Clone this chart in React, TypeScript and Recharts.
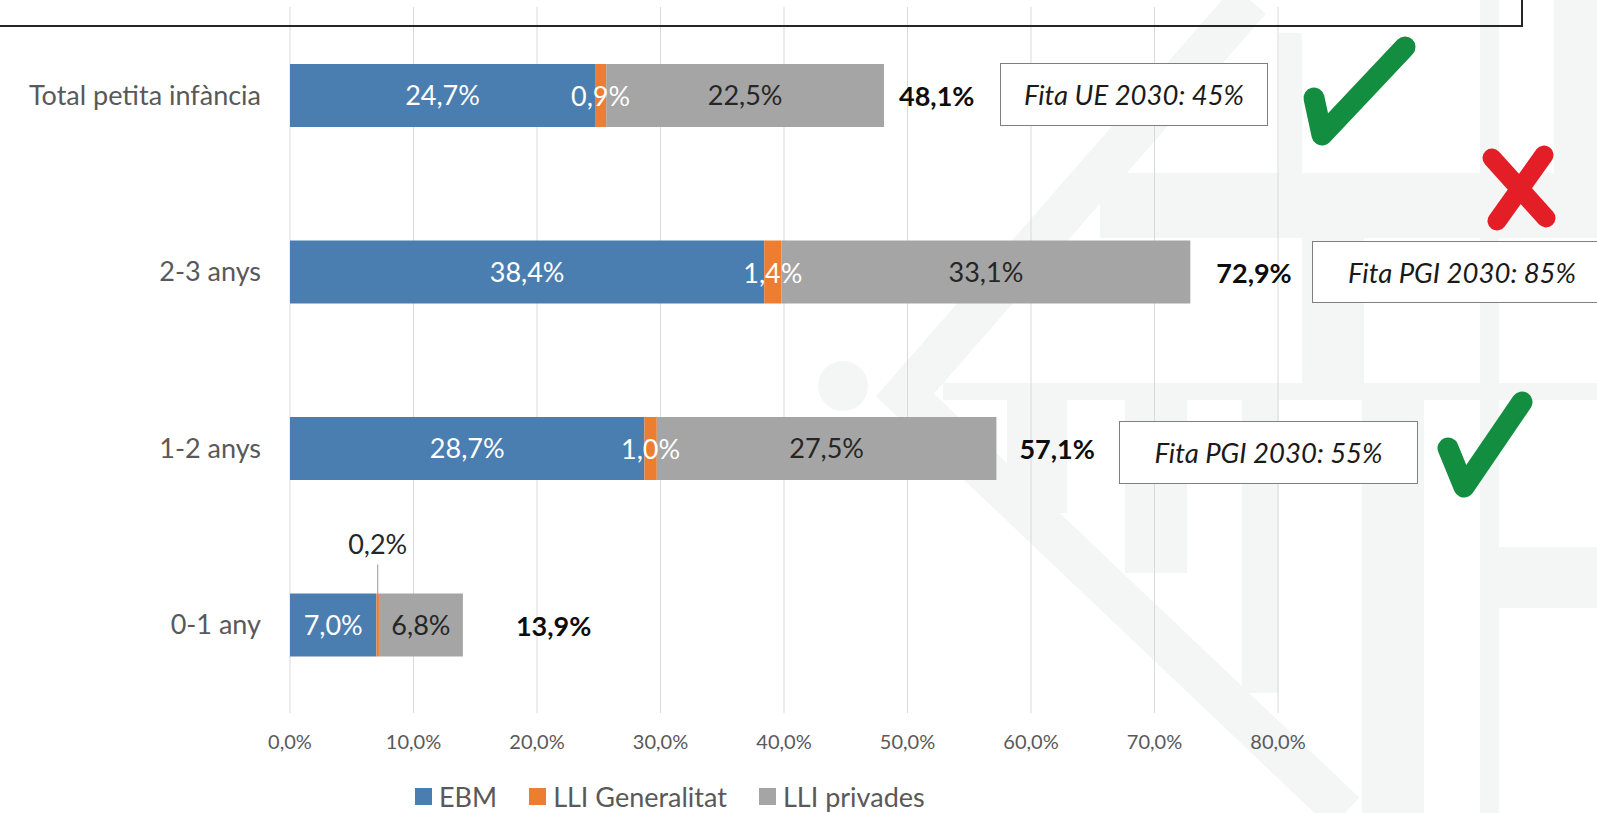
import React from "react"
import { BarChart, Bar, XAxis, YAxis, CartesianGrid, LabelList } from "recharts"

// categories, top to bottom
const categories = ["Total petita infància", "2-3 anys", "1-2 anys", "0-1 any"]
const ebm = [24.7, 38.4, 28.7, 7.0]
const lliGeneralitat = [0.9, 1.4, 1.0, 0.2]
const lliPrivades = [22.5, 33.1, 27.5, 6.8]
const totals = [48.1, 72.9, 57.1, 13.9]
const xTicks = [0, 10, 20, 30, 40, 50, 60, 70, 80]

const series = [
  { key: "ebm", name: "EBM", color: "#4a7eb1" },
  { key: "gen", name: "LLI Generalitat", color: "#ed7d31" },
  { key: "priv", name: "LLI privades", color: "#a5a5a5" },
]

const FONT = "Lato, 'Open Sans', sans-serif"
// gap between the end of the stack and its total label (placed by hand in the original)
const TOTAL_GAP = [15, 26, 23, 53]

const data = categories.map((name, i) => ({
  name,
  ebm: ebm[i],
  gen: lliGeneralitat[i],
  priv: lliPrivades[i],
  total: totals[i],
}))

const fmt = (v: number) => `${v.toFixed(1).replace(".", ",")}%`

const GenLabel = (props: any) => {
  const { x, y, width, height, value } = props
  const cx = x + width / 2
  if (value < 0.5) {
    // too thin for an inside label: put it above with a leader line
    return (
      <g>
        <line x1={cx} x2={cx} y1={y - 29} y2={y} stroke="#a6a6a6" strokeWidth={1.2} />
        <text x={cx} y={y - 50} textAnchor="middle" dominantBaseline="central" fontSize={27} fill="#262626" fontFamily={FONT}>
          {fmt(value)}
        </text>
      </g>
    )
  }
  return (
    <text x={cx} y={y + height / 2} textAnchor="middle" dominantBaseline="central" fontSize={27} fill="#ffffff" fontFamily={FONT}>
      {fmt(value)}
    </text>
  )
}

const TotalLabel = (props: any) => {
  const { x, y, width, height, value, index } = props
  return (
    <text
      x={x + width + TOTAL_GAP[index]}
      y={y + height / 2}
      dominantBaseline="central"
      fontSize={27}
      fontWeight="bold"
      fill="#0d0d0d"
      fontFamily={FONT}
    >
      {fmt(value)}
    </text>
  )
}

const boxStyle: React.CSSProperties = {
  position: "absolute",
  background: "#fff",
  border: "1.5px solid #7f7f7f",
  boxSizing: "border-box",
  display: "flex",
  alignItems: "center",
  justifyContent: "center",
  fontStyle: "italic",
  fontSize: 27.5,
  color: "#1a1a1a",
  whiteSpace: "nowrap",
}

// faint logo behind the chart: [x, y, w, h]
const wmRects = [
  [1100, 173, 497, 65],
  [943, 383, 654, 17],
  [1279, 33, 23, 140],
  [1480, 0, 19, 813],
  [1554, 0, 43, 173],
  [1302, 238, 62, 145],
  [1007, 400, 60, 113],
  [1125, 400, 62, 173],
  [1242, 400, 37, 293],
  [1362, 400, 62, 413],
  [1499, 547, 98, 61],
]

function Watermark() {
  const c = "#f4f5f5"
  return (
    <svg width={1597} height={813} style={{ position: "absolute", left: 0, top: 0 }}>
      {wmRects.map(([x, y, w, h], i) => (
        <rect key={i} x={x} y={y} width={w} height={h} fill={c} />
      ))}
      <polyline points="1250,0 905,395 1345,813" fill="none" stroke={c} strokeWidth={42} />
      <circle cx={843} cy={386} r={25} fill={c} />
    </svg>
  )
}

export default function App() {
  return (
    <div style={{ position: "absolute", left: 0, top: 0, width: 1597, height: 813, overflow: "hidden", background: "#fff", fontFamily: FONT }}>
      <Watermark />
      <div style={{ position: "absolute", left: 0, top: 0 }}>
        <BarChart
          width={1597}
          height={813}
          data={data}
          layout="vertical"
          margin={{ top: 7, right: 319, bottom: 59, left: 0 }}
          barSize={63}
        >
          <CartesianGrid horizontal={false} stroke="#d9d9d9" />
          <XAxis
            type="number"
            domain={[0, 80]}
            ticks={xTicks}
            tickFormatter={fmt}
            axisLine={false}
            tickLine={false}
            tickSize={0}
            tickMargin={22}
            height={41}
            tick={{ fontSize: 20, fill: "#595959", fontFamily: FONT }}
          />
          <YAxis
            type="category"
            dataKey="name"
            width={290}
            axisLine={false}
            tickLine={false}
            tickSize={0}
            tickMargin={29}
            tick={{ fontSize: 27, fill: "#595959", fontFamily: FONT }}
          />
          <Bar dataKey="ebm" stackId="a" fill={series[0].color} isAnimationActive={false}>
            <LabelList dataKey="ebm" position="center" formatter={fmt} fill="#ffffff" fontSize={27} fontFamily={FONT} />
          </Bar>
          <Bar dataKey="gen" stackId="a" fill={series[1].color} isAnimationActive={false}>
            <LabelList dataKey="gen" content={GenLabel} />
          </Bar>
          <Bar dataKey="priv" stackId="a" fill={series[2].color} isAnimationActive={false}>
            <LabelList dataKey="priv" position="center" formatter={fmt} fill="#262626" fontSize={27} fontFamily={FONT} />
            <LabelList dataKey="total" content={TotalLabel} />
          </Bar>
        </BarChart>
      </div>

      {/* frame of the box above the chart */}
      <div style={{ position: "absolute", left: -2, top: -2, width: 1523, height: 27, borderBottom: "2px solid #262626", borderRight: "2px solid #262626" }} />

      {/* target boxes */}
      <div style={{ ...boxStyle, left: 1000, top: 63, width: 268, height: 63 }}>Fita UE 2030: 45%</div>
      <div style={{ ...boxStyle, left: 1312, top: 241, width: 300, height: 62 }}>Fita PGI 2030: 85%</div>
      <div style={{ ...boxStyle, left: 1119, top: 421, width: 299, height: 63 }}>Fita PGI 2030: 55%</div>

      {/* marks */}
      <svg width={1597} height={813} style={{ position: "absolute", left: 0, top: 0, pointerEvents: "none" }}>
        <polyline points="1314,98 1322,135 1405,47" fill="none" stroke="#138e40" strokeWidth={21} strokeLinecap="round" strokeLinejoin="round" />
        <line x1={1492} y1={158} x2={1546} y2={218} stroke="#e41e26" strokeWidth={19} strokeLinecap="round" />
        <line x1={1544} y1={155} x2={1497} y2={221} stroke="#e41e26" strokeWidth={19} strokeLinecap="round" />
        <polyline points="1448,448 1464,487 1522,402" fill="none" stroke="#138e40" strokeWidth={21} strokeLinecap="round" strokeLinejoin="round" />
      </svg>

      {/* legend */}
      <div style={{ position: "absolute", left: 415, top: 780, display: "flex", alignItems: "center", fontSize: 27, color: "#595959" }}>
        {series.map((s) => (
          <div key={s.key} style={{ display: "flex", alignItems: "center", marginRight: 32 }}>
            <div style={{ width: 17, height: 17, background: s.color, marginRight: 7 }} />
            <span>{s.name}</span>
          </div>
        ))}
      </div>
    </div>
  )
}
